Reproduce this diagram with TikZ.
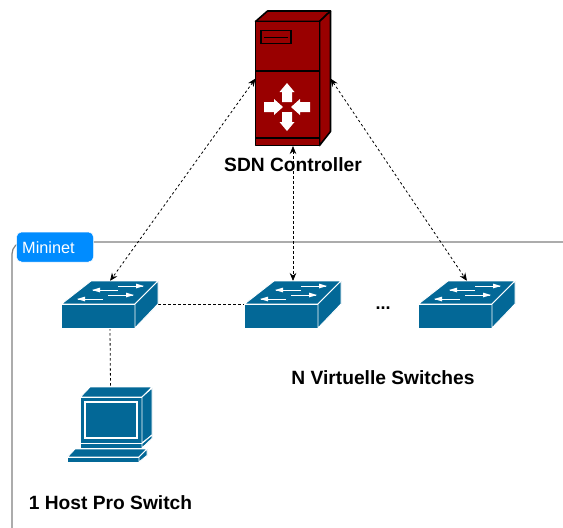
\documentclass[tikz,border=0pt]{standalone}
\usepackage{fontspec}
\usetikzlibrary{arrows.meta}
\setmainfont{Liberation Sans}
\definecolor{swblue}{HTML}{036897}
\definecolor{ctrlred}{HTML}{990000}
\definecolor{tagblue}{HTML}{008CFF}
\tikzset{
	link/.style={line width=0.8pt,dash pattern=on 2.5pt off 2.5pt},
	devblue/.style={fill=swblue,draw=white,line width=0.9pt,line join=round},
	devred/.style={fill=ctrlred,draw=black,line width=1.6pt,line join=round},
	swbox/.style={minimum width=96pt,minimum height=47pt,inner sep=0pt,outer sep=0pt},
	hostbox/.style={minimum width=85pt,minimum height=75pt,inner sep=0pt,outer sep=0pt},
	ctrlbox/.style={minimum width=75pt,minimum height=135pt,inner sep=0pt,outer sep=0pt},
	caption/.style={font=\fontsize{19.2}{22}\selectfont\bfseries,inner sep=0pt},
	swicon/.pic={
		\draw[devblue] (-48.5,-0.5) -- (-19,-23.5) -- (48,-23.5) -- (25,-0.5) -- cycle;
		\draw[devblue] (-48.5,-0.5) rectangle (25,23.5);
		\draw[devblue] (25,-0.5) -- (48,-23.5) -- (48,-0.5) -- (25,23.5) -- cycle;
		\foreach \a/\b/\y in {8/33/-18.5,8/-17/-14.5,-2/23/-9.5,-7/-32/-5.5}{
			\draw[white,line width=1pt] (\a,\y) -- (\b,\y);
			\fill[white] (\b,\y) +({(\b-\a)/25*1},0) -- +({-(\b-\a)/25*7},-2.4) -- +({-(\b-\a)/25*7},2.4) -- cycle;
		}
	},
	hosticon/.pic={
		\draw[devblue] (-30,-27.5) -- (-20.5,-37.5) -- (41.5,-37.5) -- (31.5,-27.5) -- cycle;
		\draw[devblue] (-30,-27.5) rectangle (31.5,18.5);
		\draw[devblue] (31.5,-27.5) -- (41.5,-36.5) -- (41.5,10.5) -- (31.5,18.5) -- cycle;
		\draw[devblue] (-30,19) rectangle (31.5,23.5);
		\draw[devblue] (31.5,23.5) -- (41.5,14) -- (41.5,10.5) -- (31.5,19) -- cycle;
		\draw[white,line width=1.3pt] (-25.5,-22.5) rectangle (26.5,13.5);
		\draw[devblue] (-43,32.5) -- (-35.5,24.5) -- (36.5,24.5) -- (28.5,32.5) -- cycle;
		\draw[devblue] (-43,32.5) rectangle (28.5,37.5);
		\draw[devblue] (28.5,32.5) -- (36.5,24.5) -- (36.5,31) -- (28.5,37.5) -- cycle;
	},
	ctrlicon/.pic={
		\draw[devred] (-37.5,-57) -- (-25.5,-67.5) -- (37.5,-67.5) -- (26.5,-57) -- cycle;
		\draw[devred] (26.5,-57) -- (37.5,-67.5) -- (37.5,53) -- (26.5,67) -- cycle;
		\draw[devred] (-37.5,-57) rectangle (26.5,67);
		\draw[black,line width=1.6pt] (-37.5,-7.5) -- (26.5,-7.5);
		\draw[black,line width=1.6pt] (-37.5,59.5) -- (26.5,59.5);
		\draw[black,line width=1.4pt] (-32,-48) rectangle (-2,-35);
		\draw[black,line width=1.4pt] (-29,-41) -- (-5,-41);
		\foreach \a in {0,180}{
			\fill[white,shift={(-6,28.5)},rotate=\a] (0,-24) -- (7.5,-15) -- (5,-15) -- (5,-5) -- (-5,-5) -- (-5,-15) -- (-7.5,-15) -- cycle;
		}
		\foreach \a in {90,270}{
			\fill[white,shift={(-6,28.5)},rotate=\a] (5,-23) -- (5,-13) -- (8,-13) -- (0,-4) -- (-8,-13) -- (-5,-13) -- (-5,-23) -- cycle;
		}
	}
}
\begin{document}
\begin{tikzpicture}[x=1pt,y=-1pt,>={Stealth[length=8pt,width=6.5pt]}]
	\useasboundingbox (0,0) rectangle (563,528);
	% frame
	\draw[black!50,line width=1.2pt,rounded corners=12pt] (12,528) -- (12,242) -- (563,242);
	\node[fill=tagblue,draw=white,line width=0.5pt,rounded corners=5pt,minimum width=77pt,minimum height=30pt,inner sep=0pt] (tag) at (55,247) {};
	\node[anchor=west,text=white,inner sep=0pt,font=\fontsize{16.3}{19}\selectfont] (tagtext) at (22,247.5) {Mininet};
	% devices
	\node[ctrlbox] (ctrl) at (293,78.5) {};
	\foreach \n/\x in {sw1/110,sw2/293,sw3/467}{
		\node[swbox] (\n) at (\x,304.5) {};
	}
	\node[hostbox] (host) at (110.5,424.5) {};
	% links
	\draw[link,<->] (ctrl.west) -- (sw1.north);
	\draw[link,<->] (ctrl.south) -- (sw2.north);
	\draw[link,<->] (ctrl.east) -- (sw3.north);
	\draw[link] (sw1.east) -- (sw2.west);
	\draw[link] (sw1.south) -- (host.north);
	% icons
	\pic at (ctrl) {ctrlicon};
	\foreach \n in {sw1,sw2,sw3}{
		\pic at (\n) {swicon};
	}
	\pic at (host) {hosticon};
	% labels
	\node[caption] (ctrllabel) at (293,164.5) {SDN Controller};
	\node[caption] (swlabel) at (383,377.5) {N Virtuelle Switches};
	\node[caption] (hostlabel) at (110.5,502.5) {1 Host Pro Switch};
	\node[caption,font=\fontsize{18}{20}\selectfont\bfseries] (dots) at (383,308.5) {...};
\end{tikzpicture}
\end{document}
